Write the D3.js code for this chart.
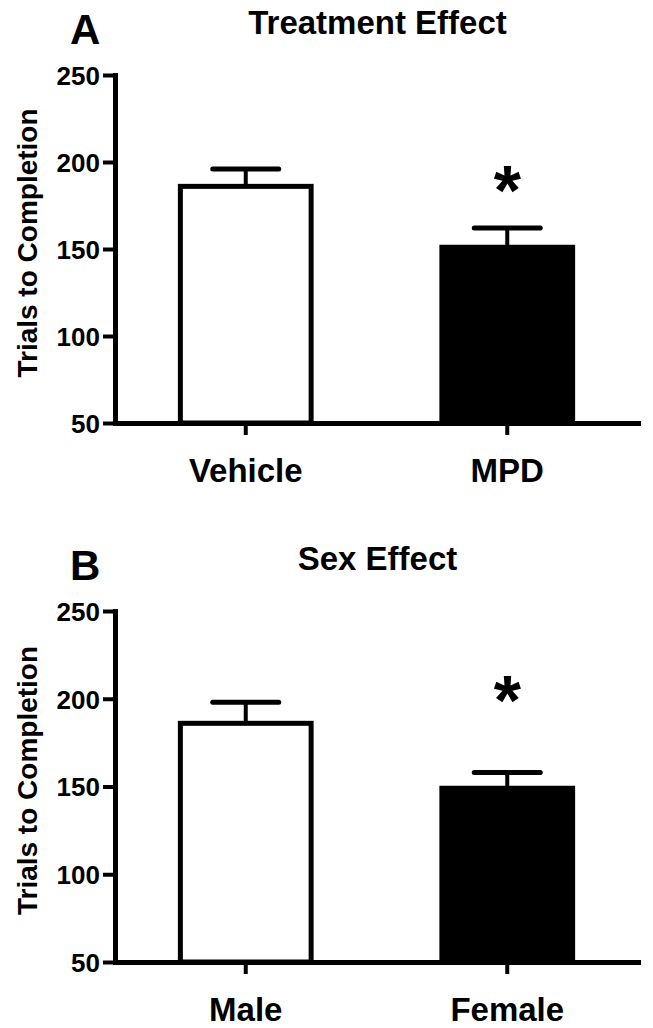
<!DOCTYPE html>
<html>
<head>
<meta charset="utf-8">
<script src="https://cdn.jsdelivr.net/npm/d3@7"></script>
<style>
  body { margin: 0; background: #fff; }
  text { font-family: "Liberation Sans", Arial, sans-serif; font-weight: bold; fill: #000; }
</style>
</head>
<body>
<div id="chart"></div>
<script>
// values
var panelLetters = ["A", "B"];
var panelTitles = ["Treatment Effect", "Sex Effect"];
var treatmentGroups = ["Vehicle", "MPD"];
var treatmentMeans = [186, 151];
var treatmentSEM = [10, 11];
var sexGroups = ["Male", "Female"];
var sexMeans = [186, 149];
var sexSEM = [12, 9];
var yTicks = [50, 100, 150, 200, 250];
var yLabel = "Trials to Completion";
var significant = [false, true];
// asterisk height (in y units) for each panel
var starLevels = [191, 206];

var width = 653, height = 1028;

var svg = d3.select("#chart")
  .append("svg")
    .attr("width", width)
    .attr("height", height);

// panel layout: top / bottom pixel of the y axis
var panels = [
  {top: 75, bottom: 423, groups: treatmentGroups, means: treatmentMeans, sem: treatmentSEM},
  {top: 611, bottom: 962, groups: sexGroups, means: sexMeans, sem: sexSEM}
];

var left = 115, right = 638;
var fills = ["#fff", "#000"];

panels.forEach(function(p, i) {
  var g = svg.append("g");

  var x = d3.scaleBand()
    .domain(p.groups)
    .range([left, right])
    .paddingInner(0.5)
    .paddingOuter(0.25);

  var y = d3.scaleLinear()
    .domain([50, 250])
    .range([p.bottom, p.top]);

  // panel letter and title
  g.append("text")
    .attr("x", 70)
    .attr("y", p.top - 31)
    .attr("font-size", "42px")
    .text(panelLetters[i]);

  g.append("text")
    .attr("x", (left + right) / 2 + 1)
    .attr("y", p.top - 41)
    .attr("text-anchor", "middle")
    .attr("font-size", "33px")
    .text(panelTitles[i]);

  var data = p.groups.map(function(d, j) { return {name: d, mean: p.means[j], sem: p.sem[j], fill: fills[j], star: significant[j]}; });

  // error bars (upper only)
  g.selectAll(".stem").data(data).enter().append("line")
    .attr("x1", function(d) { return x(d.name) + x.bandwidth() / 2; })
    .attr("x2", function(d) { return x(d.name) + x.bandwidth() / 2; })
    .attr("y1", function(d) { return y(d.mean); })
    .attr("y2", function(d) { return y(d.mean + d.sem); })
    .style("stroke", "#000")
    .style("stroke-width", 4);

  g.selectAll(".cap").data(data).enter().append("line")
    .attr("x1", function(d) { return x(d.name) + x.bandwidth() / 2 - 33; })
    .attr("x2", function(d) { return x(d.name) + x.bandwidth() / 2 + 33; })
    .attr("y1", function(d) { return y(d.mean + d.sem); })
    .attr("y2", function(d) { return y(d.mean + d.sem); })
    .style("stroke", "#000")
    .style("stroke-width", 5)
    .style("stroke-linecap", "round");

  // bars
  g.selectAll(".bar").data(data).enter().append("rect")
    .attr("x", function(d) { return x(d.name); })
    .attr("y", function(d) { return y(d.mean); })
    .attr("width", x.bandwidth())
    .attr("height", function(d) { return y(50) - y(d.mean); })
    .style("fill", function(d) { return d.fill; })
    .style("stroke", "#000")
    .style("stroke-width", 5);

  // significance asterisk, centred on its level
  g.selectAll(".star").data(data.filter(function(d) { return d.star; })).enter().append("text")
    .attr("x", function(d) { return x(d.name) + x.bandwidth() / 2; })
    .attr("y", y(starLevels[i]) + 37)
    .attr("text-anchor", "middle")
    .attr("font-size", "70px")
    .text("*");

  // axes
  var yAxis = g.append("g")
    .attr("transform", "translate(" + left + ",0)")
    .call(d3.axisLeft(y).tickValues(yTicks).tickSize(12).tickSizeOuter(0).tickPadding(3));

  var xAxis = g.append("g")
    .attr("transform", "translate(0," + p.bottom + ")")
    .call(d3.axisBottom(x).tickSize(12).tickSizeOuter(0));

  [yAxis, xAxis].forEach(function(a) {
    a.select(".domain").style("stroke", "#000").style("stroke-width", 5).style("stroke-linecap", "square");
    a.selectAll(".tick line").style("stroke", "#000").style("stroke-width", 4);
    a.selectAll("text").attr("font-family", null).style("fill", "#000");
  });

  yAxis.selectAll("text").style("font-size", "26px").attr("dy", "0.36em");
  xAxis.selectAll("text").style("font-size", "33px").attr("y", 59).attr("dy", 0);

  // y label
  g.append("text")
    .attr("transform", "translate(37," + ((p.top + p.bottom) / 2 - 6) + ") rotate(-90)")
    .attr("text-anchor", "middle")
    .attr("font-size", "28px")
    .text(yLabel);
});
</script>
</body>
</html>
